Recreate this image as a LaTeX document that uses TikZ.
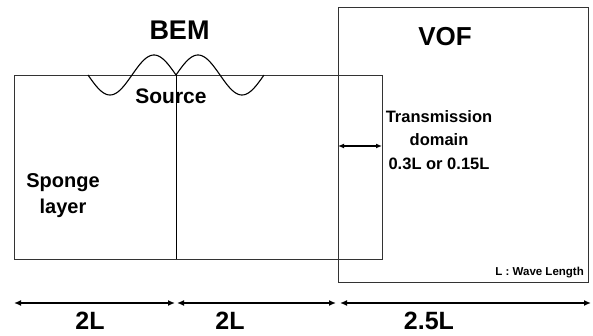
\documentclass[tikz,border=0pt]{standalone}
\usepackage{fontspec}
\setmainfont{Liberation Sans}
\usetikzlibrary{arrows.meta}
\begin{document}
\begin{tikzpicture}[x=1pt,y=-1pt,
  box/.style={draw=black!80,line width=0.8pt},
  lbl/.style={inner sep=0pt,align=center},
  dim/.style={line width=1.4pt,{Latex[length=7pt,width=6pt]}-{Latex[length=7pt,width=6pt]}},
  wave/.style={line width=1.1pt}]
\useasboundingbox (0,0) rectangle (593,336);
% BEM box
\coordinate (b1) at (14,75);
\coordinate (b2) at (382,259);
\draw[box] (b1) rectangle (b2);
\coordinate (dtop) at (176,75);
\coordinate (dbot) at (176,259);
\draw[line width=1pt] (dtop) -- (dbot);
% VOF box
\coordinate (v1) at (338,7);
\coordinate (v2) at (588,282);
\draw[box] (v1) rectangle (v2);
% waves
\draw[wave,domain=0:1,samples=60,variable=\t] plot ({88+88*\t},{75+20*sin(360*\t)});
\draw[wave,domain=0:1,samples=60,variable=\t] plot ({176+88*\t},{75-20*sin(360*\t)});
% texts
\node[lbl,font=\bfseries\fontsize{27}{27}\selectfont] (bem) at (179.5,30) {BEM};
\node[lbl,font=\bfseries\fontsize{26}{26}\selectfont] (vof) at (445,37) {VOF};
\node[lbl,font=\bfseries\fontsize{21}{21}\selectfont] (src) at (171,96) {Source};
\node[lbl,font=\bfseries\fontsize{20}{26}\selectfont] (sponge) at (63,196) {Sponge\\layer};
\node[lbl,font=\bfseries\fontsize{16.5}{23.5}\selectfont] (trans) at (439,140) {Transmission\\domain\\0.3L or 0.15L};
\node[lbl,font=\bfseries\fontsize{11.5}{11.5}\selectfont,anchor=east] (wl) at (584,273) {L : Wave Length};
% transmission arrow
\coordinate (t1) at (338,146);
\coordinate (t2) at (382,146);
\draw[line width=1.2pt,{Latex[length=6pt,width=5pt]}-{Latex[length=6pt,width=5pt]}] (t1) -- (t2);
% dimension arrows
\coordinate (a0) at (14,303);
\coordinate (a1) at (175,303);
\coordinate (a1b) at (177,303);
\coordinate (a2) at (336,303);
\coordinate (a2b) at (340,303);
\coordinate (a3) at (591,303);
\draw[dim] (a0) -- (a1);
\draw[dim] (a1b) -- (a2);
\draw[dim] (a2b) -- (a3);
\node[lbl,font=\bfseries\fontsize{25}{25}\selectfont] (l1) at (90,321) {2L};
\node[lbl,font=\bfseries\fontsize{25}{25}\selectfont] (l2) at (230,321) {2L};
\node[lbl,font=\bfseries\fontsize{25}{25}\selectfont] (l3) at (429,321) {2.5L};
\end{tikzpicture}
\end{document}
